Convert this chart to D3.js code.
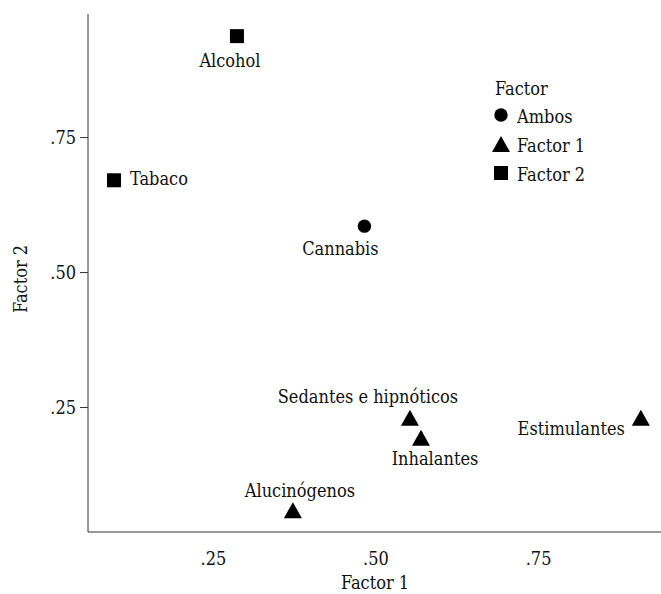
<!DOCTYPE html>
<html><head><meta charset="utf-8">
<script src="https://cdn.jsdelivr.net/npm/d3@7"></script>
<style>
html,body{margin:0;padding:0;background:#fff;}
text{font-family:"DejaVu Serif Condensed","DejaVu Serif",serif;font-stretch:condensed;fill:#111;}
</style></head>
<body><svg id="chart" width="661" height="594"></svg>
<script>
// ---- data ----
const substances = ["Alcohol","Tabaco","Cannabis","Sedantes e hipnóticos","Inhalantes","Estimulantes","Alucinógenos"];
const factor1 = [0.287, 0.098, 0.483, 0.553, 0.570, 0.908, 0.373];
const factor2 = [0.937, 0.670, 0.585, 0.230, 0.193, 0.230, 0.059];
const group = ["Factor 2","Factor 2","Ambos","Factor 1","Factor 1","Factor 1","Factor 1"];
const legendGroups = ["Ambos","Factor 1","Factor 2"];
const tickValues = [0.25, 0.50, 0.75];
const tickLabels = [".25", ".50", ".75"];

// ---- layout (label offsets in px) ----
const labelLayout = [
  {dx:-7, dy:31, anchor:"middle"},
  {dx:16, dy:5, anchor:"start"},
  {dx:-24, dy:29, anchor:"middle"},
  {dx:-42, dy:-15, anchor:"middle"},
  {dx:14, dy:27, anchor:"middle"},
  {dx:-16, dy:17, anchor:"end"},
  {dx:7, dy:-13, anchor:"middle"}
];

(function(){
const svg = d3.select("#chart");
const mL = 88, mR = 661, mT = 14, mB = 532;
const x = d3.scaleLinear().domain([0.058, 0.939]).range([mL, mR]);
const y = d3.scaleLinear().domain([0.0185, 0.978]).range([mB, mT]);

const fs = 18;

const yAxis = d3.axisLeft(y).tickValues(tickValues).tickFormat((d,i)=>tickLabels[i]).tickSize(8).tickSizeOuter(0).tickPadding(4);
const gy = svg.append("g").attr("transform",`translate(${mL},0)`).call(yAxis);
gy.select(".domain").attr("stroke","#333").attr("d",`M0,${mT}V${mB}`);
gy.selectAll(".tick line").attr("stroke","#333");
gy.selectAll(".tick text").attr("font-size",fs).attr("font-family",null).attr("fill","#111").attr("dy","0.35em");

const xAxis = d3.axisBottom(x).tickValues(tickValues).tickFormat((d,i)=>tickLabels[i]).tickSize(0).tickSizeOuter(0).tickPadding(20);
const gx = svg.append("g").attr("transform",`translate(0,${mB})`).call(xAxis);
gx.select(".domain").attr("stroke","#333").attr("d",`M${mL},0H${mR}`);
gx.selectAll(".tick text").attr("font-size",fs).attr("font-family",null).attr("fill","#111").attr("dy","0.71em");

svg.append("text").attr("x",375).attr("y",589).attr("text-anchor","middle").attr("font-size",fs).text("Factor 1");
svg.append("text").attr("transform","translate(27,279) rotate(-90)").attr("text-anchor","middle").attr("font-size",fs).text("Factor 2");

const triangle = {draw(ctx,size){const w=18,h=16;ctx.moveTo(0,-h/2);ctx.lineTo(w/2,h/2);ctx.lineTo(-w/2,h/2);ctx.closePath();}};
const symbolFor = {"Ambos": d3.symbol(d3.symbolCircle,141)(), "Factor 1": d3.symbol(triangle,1)(), "Factor 2": d3.symbol(d3.symbolSquare,196)()};

const pts = svg.append("g");
substances.forEach((s,i)=>{
  const px = x(factor1[i]), py = y(factor2[i]);
  pts.append("path").attr("d",symbolFor[group[i]]).attr("transform",`translate(${px},${py})`).attr("fill","#000");
  const L = labelLayout[i];
  pts.append("text").attr("x",px+L.dx).attr("y",py+L.dy).attr("text-anchor",L.anchor).attr("font-size",fs).text(s);
});

const lg = svg.append("g").attr("transform","translate(495,0)");
lg.append("text").attr("x",0).attr("y",95).attr("font-size",fs).text("Factor");
legendGroups.forEach((g,i)=>{
  const cy = 115 + i*29;
  lg.append("path").attr("d",symbolFor[g]).attr("transform",`translate(6,${cy})`).attr("fill","#000");
  lg.append("text").attr("x",22).attr("y",cy+8).attr("font-size",fs).text(g);
});
})();
</script></body></html>
